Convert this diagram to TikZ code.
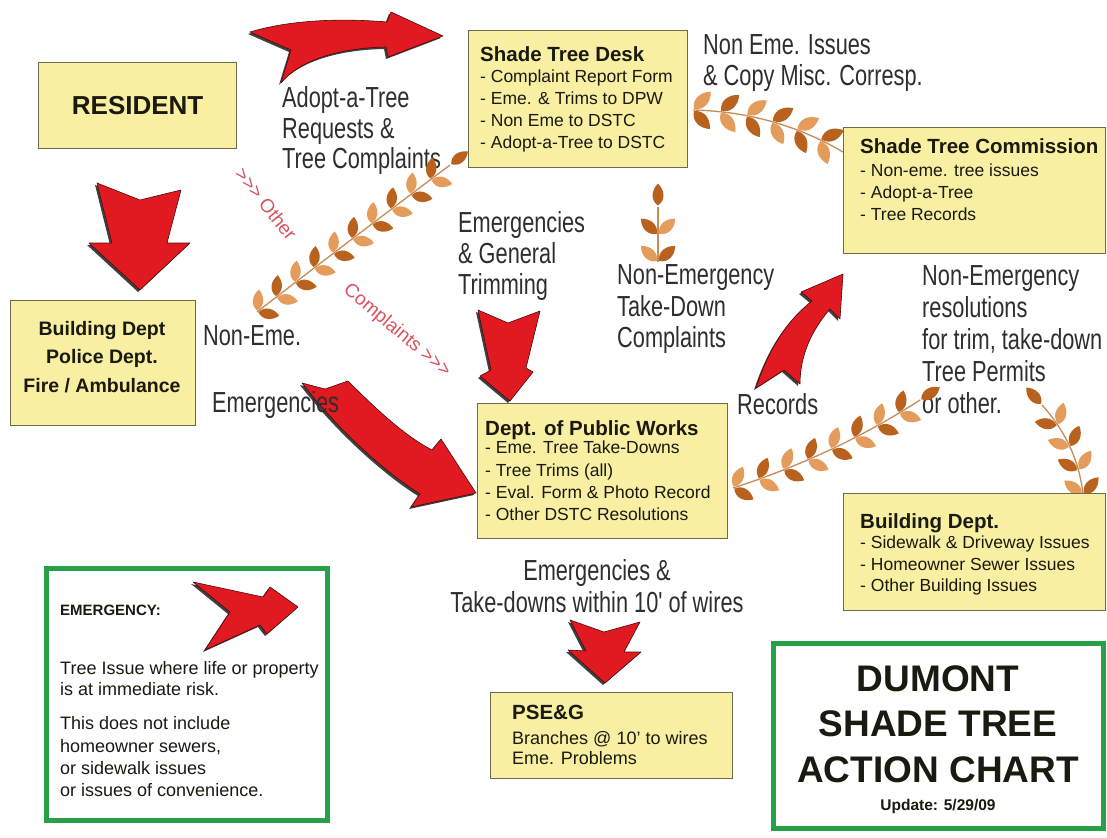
\documentclass[tikz,border=0pt]{standalone}
\usepackage{fontspec}
\setmainfont{Liberation Sans}
\newfontfamily\cond[FakeStretch=0.75]{Liberation Sans}
\usetikzlibrary{calc}
\definecolor{boxyellow}{HTML}{F8EFA2}
\definecolor{boxedge}{HTML}{6E6A50}
\definecolor{arrowred}{HTML}{E11A22}
\definecolor{arrowdark}{HTML}{4A0A0A}
\definecolor{leafdark}{HTML}{B8621E}
\definecolor{leaflight}{HTML}{E39C5C}
\definecolor{stemcol}{HTML}{C98A55}
\definecolor{framegreen}{HTML}{27A048}
\definecolor{pinktext}{HTML}{D9525E}
\definecolor{labeltext}{HTML}{2E2E2E}
\definecolor{boxtext}{HTML}{1A1A10}

\tikzset{
  ybox/.style={draw=boxedge, line width=1.3pt, fill=boxyellow, inner sep=0pt, anchor=north west},
  gframe/.style={draw=framegreen, line width=5pt, fill=white},
  redarrow/.style={fill=arrowred, draw=arrowdark, line width=0.6pt, line join=round},
  arrowshadow/.style={fill=black!75},
  stemline/.style={draw=stemcol, line width=1.3pt},
  lbl/.style={font=\cond\fontsize{29}{30.5}\selectfont, text=labeltext, align=left, inner sep=0pt, anchor=north west},
  btitle/.style={font=\bfseries\fontsize{20.5}{24}\selectfont, text=boxtext, inner sep=0pt, anchor=north west},
  bitems/.style={font=\fontsize{17.5}{21.8}\selectfont, text=boxtext, align=left, inner sep=0pt, anchor=north west},
  pinklbl/.style={font=\fontsize{19}{22}\selectfont, text=pinktext, inner sep=0pt}
}

\newcommand\leaf[5]{%
  \begin{scope}[shift={(#1,#2)},rotate=#3]
    \fill[#5] (1.5,0) .. controls ({1.5+0.25*#4},{0.36*#4}) and ({1.5+0.7*#4},{0.3*#4}) .. ({1.5+#4},0)
      .. controls ({1.5+0.7*#4},{-0.3*#4}) and ({1.5+0.25*#4},{-0.36*#4}) .. (1.5,0) -- cycle;
  \end{scope}}

\newcommand\fern[8]{%
  \draw[stemline] (#1,#2) .. controls ($(#1,#2)!0.6667!(#3,#4)$) and ($(#5,#6)!0.6667!(#3,#4)$) .. (#5,#6);
  \foreach \i in {1,...,#7}{%
    \pgfmathsetmacro\ft{(\i-1)/#7}%
    \pgfmathsetmacro\fx{(1-\ft)*(1-\ft)*#1+2*(1-\ft)*\ft*#3+\ft*\ft*#5}%
    \pgfmathsetmacro\fy{(1-\ft)*(1-\ft)*#2+2*(1-\ft)*\ft*#4+\ft*\ft*#6}%
    \pgfmathsetmacro\fdx{(1-\ft)*(#3-#1)+\ft*(#5-#3)}%
    \pgfmathsetmacro\fdy{(1-\ft)*(#4-#2)+\ft*(#6-#4)}%
    \pgfmathsetmacro\fang{atan2(0-(\fdy),\fdx)}%
    \pgfmathtruncatemacro\fpar{mod(\i,2)}%
    \ifnum\fpar=0 \def\ca{leafdark}\def\cb{leaflight}\else\def\ca{leaflight}\def\cb{leafdark}\fi
    \leaf{\fx}{\fy}{\fang+47}{#8}{\ca}%
    \leaf{\fx}{\fy}{\fang-47}{#8}{\cb}%
  }%
  \pgfmathsetmacro\fang{atan2(0-(#6-#4),#5-#3)}%
  \leaf{#5}{#6}{\fang}{#8}{leafdark}%
}

\newcommand\redarr[1]{%
  \fill[arrowshadow,shift={(-2,2)}] #1;
  \filldraw[redarrow] #1;}

\begin{document}
\begin{tikzpicture}[x=1pt,y=-1pt]
\path[use as bounding box] (0,0) rectangle (1107,837);
\fill[white] (0,0) rectangle (1107,837);

% ---------- red arrows ----------
\redarr{(250,32) .. controls (290,20) and (340,18) .. (387,22) -- (391,12) -- (443,36) -- (388,57) -- (386,47) .. controls (335,48) and (298,62) .. (281,83) -- (291,50) -- cycle}
\redarr{(97,183) -- (140,200) -- (181,190) -- (167,243) -- (190,243) -- (140,290) -- (89,243) -- (112,243) -- cycle}
\redarr{(478,310) -- (508,323) -- (540,311) -- (526,368) -- (533,372) -- (510,401) -- (480,376) -- (491,370) -- cycle}
\redarr{(302,383) -- (325,389) -- (348,381) .. controls (377,410) and (405,436) .. (432,450) -- (441,439) -- (476,493) -- (411,507) -- (420,494) .. controls (385,472) and (338,430) .. (302,383) -- cycle}
\redarr{(756,388) .. controls (770,345) and (790,318) .. (812,301) -- (801,292) -- (843,274) -- (840,319) -- (830,309) .. controls (812,330) and (800,355) .. (800,384) -- (784,370) -- cycle}
\redarr{(570,620) -- (604,632) -- (640,622) -- (624,652) -- (641,652) -- (605,683) -- (568,650) -- (586,651) -- cycle}

% ---------- labels ----------
\node[lbl] (lAdopt) at (282,86.6) {Adopt-a-Tree\\Requests \&\\Tree Complaints};
\node[lbl] (lNonEmeIss) at (703,34.6) {Non Eme. Issues\\\& Copy Misc. Corresp.};
\node[lbl, font=\cond\fontsize{29}{31}\selectfont] (lEmGen) at (458,211.6) {Emergencies\\\& General\\Trimming};
\node[lbl, font=\cond\fontsize{29}{31.5}\selectfont] (lNETD) at (617,264.6) {Non-Emergency\\Take-Down\\Complaints};
\node[lbl, font=\cond\fontsize{29}{32}\selectfont] (lNERes) at (922,265.6) {Non-Emergency\\resolutions\\for trim, take-down\\Tree Permits\\or other.};
\node[lbl] (lNonEme) at (203,325.6) {Non-Eme.};
\node[lbl] (lEmerg) at (212,391.6) {Emergencies};
\node[lbl] (lRecords) at (737,393.6) {Records};
\node[lbl, anchor=north, align=center, font=\cond\fontsize{29}{32}\selectfont] (lEmTake) at (597,559.6) {Emergencies \&\\Take-downs within 10' of wires};
\node[pinklbl, rotate=-51.5] (lOther) at (266,204) {>{}>{}> Other};
\node[pinklbl, rotate=-40] (lCompl) at (397,331) {Complaints >{}>{}>};

% ---------- ferns ----------
\fern{257}{312}{350}{240}{450}{165}{10}{21}
\fern{693}{110}{775}{112}{843}{152}{6}{24}
\fern{658}{262}{658}{235}{658}{207}{2}{22}
\fern{733}{488}{835}{455}{920}{400}{8}{22}
\fern{1083}{495}{1078}{445}{1042}{405}{4}{22}

% ---------- boxes ----------
\node[ybox, minimum width=198pt, minimum height=86pt] (resident) at (38,62) {};
\node[font=\bfseries\fontsize{26}{30}\selectfont, text=boxtext] (residentT) at (resident.center) {RESIDENT};

\node[ybox, minimum width=219pt, minimum height=137pt] (desk) at (468,30) {};
\node[btitle] (deskT) at (480,46) {Shade Tree Desk};
\node[bitems] (deskI) at (480,70) {- Complaint Report Form\\- Eme. \& Trims to DPW\\- Non Eme to DSTC\\- Adopt-a-Tree to DSTC};

\node[ybox, minimum width=262pt, minimum height=126pt] (comm) at (843,127) {};
\node[btitle] (commT) at (860,138.5) {Shade Tree Commission};
\node[bitems] (commI) at (860,164) {- Non-eme. tree issues\\- Adopt-a-Tree\\- Tree Records};

\node[ybox, minimum width=185pt, minimum height=125pt] (bpf) at (10,300) {};
\node[font=\bfseries\fontsize{19.5}{28.5}\selectfont, text=boxtext, align=center, inner sep=0pt, anchor=north] (bpfT) at (102,321) {Building Dept\\Police Dept.\\Fire / Ambulance};

\node[ybox, minimum width=250pt, minimum height=135pt] (dpw) at (477,403) {};
\node[btitle] (dpwT) at (485,420) {Dept. of Public Works};
\node[bitems, font=\fontsize{17.5}{22.3}\selectfont] (dpwI) at (485,441) {- Eme. Tree Take-Downs\\- Tree Trims (all)\\- Eval. Form \& Photo Record\\- Other DSTC Resolutions};

\node[ybox, minimum width=262pt, minimum height=117pt] (bdept) at (843,493) {};
\node[btitle] (bdeptT) at (860,513) {Building Dept.};
\node[bitems, font=\fontsize{17.5}{21.5}\selectfont] (bdeptI) at (860,536) {- Sidewalk \& Driveway Issues\\- Homeowner Sewer Issues\\- Other Building Issues};

\node[ybox, minimum width=242pt, minimum height=86pt] (pseg) at (490,692) {};
\node[btitle] (psegT) at (512,705) {PSE\&G};
\node[bitems, font=\fontsize{18}{20.5}\selectfont] (psegI) at (512,731) {Branches @ 10' to wires\\Eme. Problems};

% ---------- green frames ----------
\draw[gframe] (46,568) rectangle (327,820);
\node[font=\bfseries\fontsize{15}{18}\selectfont, text=boxtext, inner sep=0pt, anchor=north west] (emT) at (60,604.6) {EMERGENCY:};
\node[bitems, font=\fontsize{18}{20.5}\selectfont] (emA) at (60,661.5) {Tree Issue where life or property\\is at immediate risk.};
\node[bitems, font=\fontsize{18}{22.3}\selectfont] (emB) at (60,716.5) {This does not include\\homeowner sewers,\\or sidewalk issues\\or issues of convenience.};
\redarr{(193,582) -- (263,597) -- (270,587) -- (298,607) -- (267,634) -- (260,625) -- (205,650) -- (230,612) -- cycle}

\draw[gframe] (773,643) rectangle (1103,828);
\node[font=\bfseries\fontsize{37}{45.5}\selectfont, text=boxtext, align=center, inner sep=0pt, anchor=north] (title) at (938,665) {DUMONT\\SHADE TREE\\ACTION CHART};
\node[font=\bfseries\fontsize{15.5}{18}\selectfont, text=boxtext, inner sep=0pt] (update) at (938,806) {Update: 5/29/09};
\end{tikzpicture}
\end{document}
